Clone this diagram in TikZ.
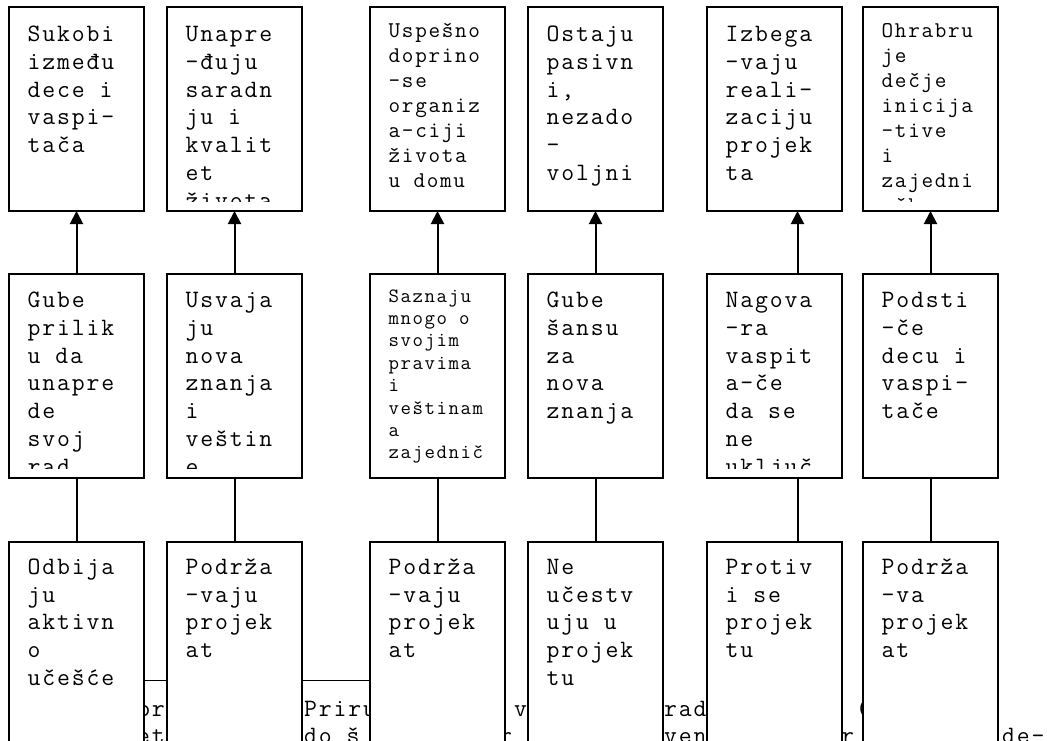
\documentclass[tikz,border=0pt]{standalone}
\usepackage{fontspec}
\newfontfamily\cour{Latin Modern Mono}[LetterSpace=7.5]
\usetikzlibrary{arrows.meta,calc}
\newcommand\mlines[1]{\begin{tabular}[t]{@{}l@{}}#1\end{tabular}}
\tikzset{
  cell/.style={draw=black, line width=1.5pt, fill=white, minimum width=135pt,
    minimum height=204pt, anchor=north west, inner sep=0pt, outer sep=0pt},
  big/.style={font=\cour\fontsize{25}{27.8}\selectfont, inner sep=0pt, anchor=base west},
  mid/.style={font=\cour\fontsize{22.5}{25}\selectfont, inner sep=0pt, anchor=base west},
  sml/.style={font=\cour\fontsize{20.3}{22.4}\selectfont, inner sep=0pt, anchor=base west},
  up/.style={line width=2pt, -{Triangle[width=13pt,length=13pt]}},
  link/.style={line width=2pt},
  rule/.style={line width=1pt},
}
\begin{document}
\begin{tikzpicture}[x=1pt,y=1pt]
\useasboundingbox (0,0) rectangle (1047,-740);
\clip (0,0) rectangle (1047,-740);

% text lying behind the lower boxes
\node[big] (h1) at (137,-716) {pr};
\node[big] (h2) at (304,-716) {Priru};
\node[big] (h3) at (514,-716) {v};
\node[big] (h4) at (664,-716) {rad};
\node[big] (h5) at (856,-716) {(};
\node[big] (h6) at (137,-743) {et};
\node[big] (h7) at (304,-743) {do š};
\node[big] (h8) at (499,-743) {r};
\node[big] (h9) at (664,-743) {vens};
\node[big] (h10) at (841,-743) {r};
\node[big] (h11) at (1002,-743) {de-};

% boxes
\foreach \i/\x in {1/9,2/167,3/370,4/528,5/707,6/863}{
  \node[cell] (t\i) at (\x,-7) {};
  \node[cell] (m\i) at (\x,-274) {};
}
\coordinate (hl) at (144,-680);
\coordinate (hr) at (370,-680);
\draw[rule] (hl) -- (hr);
\foreach \i/\x in {1/9,2/167,3/370,4/528,5/707,6/863}{
  \node[cell] (b\i) at (\x,-542) {};
}

% top row texts
\begin{scope}
\clip ([shift={(1,-1)}]t1.north west) rectangle ([shift={(-1,10)}]t1.south east);
\node[big] (t1x) at ($(t1.north west)+(18.5,-34.4)$) {\mlines{Sukobi\\između\\dece i\\vaspi-\\tača}};
\end{scope}
\begin{scope}
\clip ([shift={(1,-1)}]t2.north west) rectangle ([shift={(-1,10)}]t2.south east);
\node[big] (t2x) at ($(t2.north west)+(18.5,-34.4)$) {\mlines{Unapre\\-đuju\\saradn\\ju i\\kvalit\\et\\života}};
\end{scope}
\begin{scope}
\clip ([shift={(1,-1)}]t3.north west) rectangle ([shift={(-1,10)}]t3.south east);
\node[mid] (t3x) at ($(t3.north west)+(18.5,-30.5)$) {\mlines{Uspešno\\doprino\\-se\\organiz\\a-ciji\\života\\u domu}};
\end{scope}
\begin{scope}
\clip ([shift={(1,-1)}]t4.north west) rectangle ([shift={(-1,10)}]t4.south east);
\node[big] (t4x) at ($(t4.north west)+(18.5,-34.4)$) {\mlines{Ostaju\\pasivn\\i,\\nezado\\-\\voljni}};
\end{scope}
\begin{scope}
\clip ([shift={(1,-1)}]t5.north west) rectangle ([shift={(-1,10)}]t5.south east);
\node[big] (t5x) at ($(t5.north west)+(18.5,-34.4)$) {\mlines{Izbega\\-vaju\\reali-\\zaciju\\projek\\ta}};
\end{scope}
\begin{scope}
\clip ([shift={(1,-1)}]t6.north west) rectangle ([shift={(-1,10)}]t6.south east);
\node[mid] (t6x) at ($(t6.north west)+(18.5,-30.5)$) {\mlines{Ohrabru\\je\\dečje\\inicija\\-tive\\i\\zajedni\\-čke}};
\end{scope}

% middle row texts
\begin{scope}
\clip ([shift={(1,-1)}]m1.north west) rectangle ([shift={(-1,10)}]m1.south east);
\node[big] (m1x) at ($(m1.north west)+(18.5,-33.4)$) {\mlines{Gube\\prilik\\u da\\unapre\\de\\svoj\\rad}};
\end{scope}
\begin{scope}
\clip ([shift={(1,-1)}]m2.north west) rectangle ([shift={(-1,10)}]m2.south east);
\node[big] (m2x) at ($(m2.north west)+(18.5,-33.4)$) {\mlines{Usvaja\\ju\\nova\\znanja\\i\\veštin\\e}};
\end{scope}
\begin{scope}
\clip ([shift={(1,-1)}]m3.north west) rectangle ([shift={(-1,10)}]m3.south east);
\node[sml] (m3x) at ($(m3.north west)+(18.5,-28)$) {\mlines{Saznaju\\mnogo o\\svojim\\pravima\\i\\veštinam\\a\\zajednič}};
\end{scope}
\begin{scope}
\clip ([shift={(1,-1)}]m4.north west) rectangle ([shift={(-1,10)}]m4.south east);
\node[big] (m4x) at ($(m4.north west)+(18.5,-33.4)$) {\mlines{Gube\\šansu\\za\\nova\\znanja}};
\end{scope}
\begin{scope}
\clip ([shift={(1,-1)}]m5.north west) rectangle ([shift={(-1,10)}]m5.south east);
\node[big] (m5x) at ($(m5.north west)+(18.5,-33.4)$) {\mlines{Nagova\\-ra\\vaspit\\a-če\\da se\\ne\\uključ}};
\end{scope}
\begin{scope}
\clip ([shift={(1,-1)}]m6.north west) rectangle ([shift={(-1,10)}]m6.south east);
\node[big] (m6x) at ($(m6.north west)+(18.5,-33.4)$) {\mlines{Podsti\\-če\\decu i\\vaspi-\\tače}};
\end{scope}

% bottom row texts
\node[big] (b1x) at ($(b1.north west)+(18.5,-32.3)$) {\mlines{Odbija\\ju\\aktivn\\o\\učešće}};
\node[big] (b2x) at ($(b2.north west)+(18.5,-32.3)$) {\mlines{Podrža\\-vaju\\projek\\at}};
\node[big] (b3x) at ($(b3.north west)+(18.5,-32.3)$) {\mlines{Podrža\\-vaju\\projek\\at}};
\node[big] (b4x) at ($(b4.north west)+(18.5,-32.3)$) {\mlines{Ne\\učestv\\uju u\\projek\\tu}};
\node[big] (b5x) at ($(b5.north west)+(18.5,-32.3)$) {\mlines{Protiv\\i se\\projek\\tu}};
\node[big] (b6x) at ($(b6.north west)+(18.5,-32.3)$) {\mlines{Podrža\\-va\\projek\\at}};

% connectors
\foreach \i in {1,2,3,4,6}{
  \draw[up] (m\i.north) -- (t\i.south);
  \draw[link] (b\i.north) -- (m\i.south);
}
\draw[up] ([xshift=23pt]m5.north) -- ([xshift=23pt]t5.south);
\draw[link] ([xshift=23pt]b5.north) -- ([xshift=23pt]m5.south);
\end{tikzpicture}
\end{document}
